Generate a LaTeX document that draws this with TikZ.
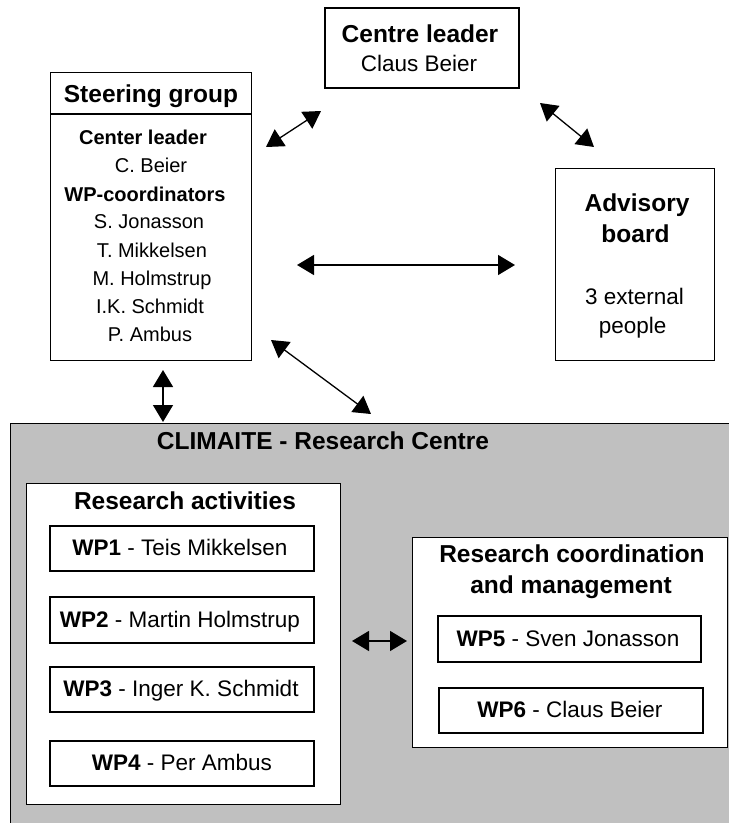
\documentclass[tikz,border=0pt]{standalone}
\usepackage{fontspec}
\setmainfont{Liberation Sans}
\usetikzlibrary{arrows.meta}
\definecolor{centregray}{HTML}{C0C0C0}
\tikzset{
  box/.style={draw=black, line width=1.3pt, fill=white, inner sep=0pt},
  hdr/.style={font=\fontsize{24.5}{29}\selectfont\bfseries, anchor=base, inner sep=0pt},
  txt/.style={font=\fontsize{22.5}{27}\selectfont, anchor=base, inner sep=0pt},
  sgb/.style={font=\fontsize{20}{24}\selectfont\bfseries, anchor=base, inner sep=0pt},
  sgt/.style={font=\fontsize{20}{24}\selectfont, anchor=base, inner sep=0pt},
  link/.style={line width=1.3pt, {Triangle[length=17pt,width=20pt]}-{Triangle[length=17pt,width=20pt]}}
}
\begin{document}
\begin{tikzpicture}[x=1pt,y=-1pt]
\useasboundingbox (0,0) rectangle (729,823);
\fill[white] (0,0) rectangle (729,823);
% research centre background
\begin{scope}
\clip (0,0) rectangle (729,823);
\node[draw=black, line width=1.3pt, fill=centregray, inner sep=0pt, minimum width=740pt, minimum height=420pt, anchor=north west] (rc) at (10,423) {};
\end{scope}
\node[hdr] (rctitle) at (323,449) {CLIMAITE - Research Centre};

% Centre leader
\node[box, minimum width=194pt, minimum height=80pt] (cl) at (422,48) {};
\node[hdr] (cltitle) at (420,42) {Centre leader};
\node[txt] (clname) at (419,71) {Claus Beier};

% Steering group
\node[box, minimum width=201pt, minimum height=288pt, anchor=north west] (sg) at (50,72) {};
\draw[line width=1.3pt] (sg.west |- 0,114) coordinate (sgdl) -- (sg.east |- 0,114) coordinate (sgdr);
\node[hdr] (sgtitle) at (151,102) {Steering group};
\node[sgb] (sg1) at (143,144) {Center leader};
\node[sgt] (sg2) at (151,172) {C. Beier};
\node[sgb] (sg3) at (145,201) {WP-coordinators};
\node[sgt] (sg4) at (149,228) {S. Jonasson};
\node[sgt] (sg5) at (152,257) {T. Mikkelsen};
\node[sgt] (sg6) at (152,285) {M. Holmstrup};
\node[sgt] (sg7) at (150,313) {I.K. Schmidt};
\node[sgt] (sg8) at (150,341) {P. Ambus};

% Advisory board
\node[box, minimum width=159pt, minimum height=192pt, anchor=north west] (ab) at (555,168) {};
\node[hdr] (ab1) at (637,211) {Advisory};
\node[hdr] (ab2) at (635.5,242) {board};
\node[txt] (ab3) at (634.6,304) {3 external};
\node[txt] (ab4) at (632.7,333) {people};

% Research activities
\node[box, minimum width=314pt, minimum height=321pt, anchor=north west] (ra) at (26,483) {};
\node[hdr] (ratitle) at (185,509) {Research activities};
\node[box, minimum width=264pt, minimum height=45pt] (wp1) at (182,548.5) {};
\node[txt] (wp1t) at (180,555.5) {\textbf{WP1} - Teis Mikkelsen};
\node[box, minimum width=264pt, minimum height=46pt] (wp2) at (182,620) {};
\node[txt] (wp2t) at (180,627) {\textbf{WP2} - Martin Holmstrup};
\node[box, minimum width=264pt, minimum height=45pt] (wp3) at (182,689.5) {};
\node[txt] (wp3t) at (181,696.5) {\textbf{WP3} - Inger K. Schmidt};
\node[box, minimum width=264pt, minimum height=45pt] (wp4) at (182,763.5) {};
\node[txt] (wp4t) at (182,770.5) {\textbf{WP4} - Per Ambus};

% Research coordination and management
\node[box, minimum width=315pt, minimum height=210pt, anchor=north west] (rm) at (412,537) {};
\node[hdr] (rm1) at (572,562) {Research coordination};
\node[hdr] (rm2) at (571,593) {and management};
\node[box, minimum width=263pt, minimum height=46pt] (wp5) at (569.5,639) {};
\node[txt] (wp5t) at (568,646) {\textbf{WP5} - Sven Jonasson};
\node[box, minimum width=264pt, minimum height=45pt] (wp6) at (571,710.5) {};
\node[txt] (wp6t) at (570,717.5) {\textbf{WP6} - Claus Beier};

% connector end points
\coordinate (a1) at (266,147); \coordinate (a2) at (321,111);
\coordinate (b1) at (540,103); \coordinate (b2) at (594,147);
\coordinate (c1) at (297,265); \coordinate (c2) at (515,265);
\coordinate (d1) at (271,340); \coordinate (d2) at (371,414);
\coordinate (e1) at (163,370); \coordinate (e2) at (163,422);
\coordinate (f1) at (352,641); \coordinate (f2) at (407,641);

\draw[link] (a1) -- (a2);
\draw[link] (b1) -- (b2);
\draw[link] (c1) -- (c2);
\draw[link] (d1) -- (d2);
\draw[link] (e1) -- (e2);
\draw[link] (f1) -- (f2);
\end{tikzpicture}
\end{document}
